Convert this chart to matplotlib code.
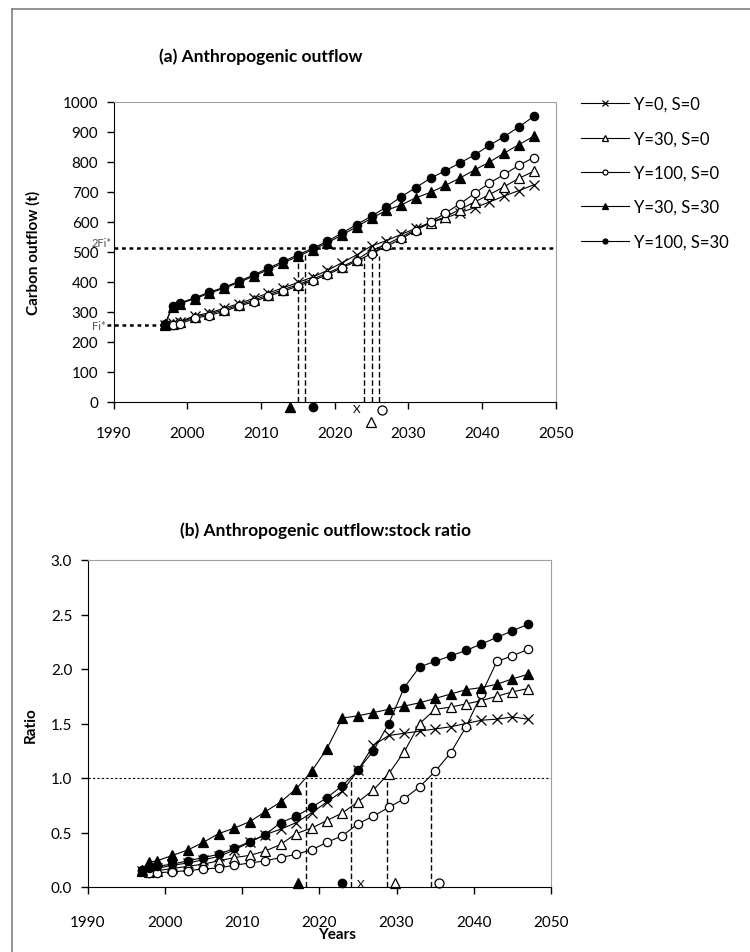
import matplotlib.pyplot as plt
from matplotlib.lines import Line2D
from matplotlib.ticker import FormatStrFormatter

plt.rcParams['font.family'] = ['Lato', 'DejaVu Sans']

years = [1997, 1998, 1999, 2001, 2003, 2005, 2007, 2009, 2011, 2013, 2015, 2017, 2019,
         2021, 2023, 2025, 2027, 2029, 2031, 2033, 2035, 2037, 2039, 2041, 2043, 2045, 2047]
labels = ['Y=0, S=0', 'Y=30, S=0', 'Y=100, S=0', 'Y=30, S=30', 'Y=100, S=30']

# (a) carbon outflow (t)
out_y0s0 = [257, 262, 268, 287, 297, 312, 328, 345, 363, 380, 398, 416, 438, 464, 490, 520, 537, 558, 578, 598, 612, 631, 647, 666, 686, 704, 723]
out_y30s0 = [257, 260, 265, 283, 293, 307, 323, 339, 357, 374, 391, 409, 429, 451, 474, 505, 525, 549, 575, 597, 617, 641, 666, 691, 717, 745, 768]
out_y100s0 = [257, 257, 260, 279, 288, 302, 319, 334, 352, 369, 386, 404, 424, 447, 469, 494, 518, 543, 571, 598, 629, 660, 695, 729, 758, 788, 814]
out_y30s30 = [260, 318, 327, 344, 362, 379, 398, 419, 441, 463, 485, 507, 530, 556, 584, 612, 638, 656, 680, 698, 721, 746, 773, 799, 829, 857, 885]
out_y100s30 = [260, 321, 330, 347, 366, 382, 402, 423, 446, 468, 490, 512, 535, 563, 591, 619, 649, 683, 714, 745, 770, 796, 823, 855, 884, 916, 951]

# (b) outflow:stock ratio
ratio_y0s0 = [0.15, 0.15, 0.17, 0.20, 0.22, 0.25, 0.28, 0.34, 0.41, 0.48, 0.53, 0.59, 0.68, 0.78, 0.88, 1.07, 1.30, 1.39, 1.41, 1.43, 1.45, 1.47, 1.50, 1.53, 1.54, 1.56, 1.54]
ratio_y30s0 = [0.15, 0.14, 0.15, 0.17, 0.19, 0.21, 0.24, 0.27, 0.29, 0.33, 0.39, 0.49, 0.54, 0.61, 0.68, 0.78, 0.89, 1.04, 1.24, 1.50, 1.63, 1.65, 1.68, 1.71, 1.75, 1.79, 1.82]
ratio_y100s0 = [0.15, 0.13, 0.13, 0.14, 0.15, 0.165, 0.175, 0.20, 0.22, 0.24, 0.27, 0.30, 0.34, 0.41, 0.47, 0.58, 0.65, 0.73, 0.81, 0.92, 1.06, 1.23, 1.47, 1.77, 2.07, 2.12, 2.18]
ratio_y30s30 = [0.16, 0.23, 0.24, 0.29, 0.34, 0.41, 0.49, 0.54, 0.60, 0.69, 0.78, 0.90, 1.06, 1.27, 1.55, 1.57, 1.60, 1.63, 1.66, 1.69, 1.73, 1.77, 1.81, 1.83, 1.86, 1.91, 1.95]
ratio_y100s30 = [0.16, 0.17, 0.19, 0.21, 0.24, 0.27, 0.30, 0.355, 0.415, 0.48, 0.59, 0.65, 0.73, 0.82, 0.93, 1.07, 1.25, 1.50, 1.83, 2.02, 2.07, 2.12, 2.17, 2.23, 2.29, 2.35, 2.41]

fi_star = 257
two_fi_star = 514
# years where each scenario reaches 2Fi* (order: Y30S30, Y100S30, Y0S0, Y30S0, Y100S0)
cross_a_years = [2015, 2016, 2024, 2025, 2026]
cross_a_tops = [499, 499, 483, 490, 487]
# years where the ratio reaches 1.0
cross_b_years = [2018.3, 2024.1, 2028.8, 2034.5]

markers = ['x', '^', 'o', '^', 'o']
faces = ['black', 'white', 'white', 'black', 'black']
sizes = [6.5, 6.5, 6, 6.5, 6]

W, H = 750, 953
def fx(p): return p / W
def fy(p): return 1 - p / H

fig = plt.figure(figsize=(7.5, 9.53), dpi=100)

# outer frame
fig.add_artist(Line2D([fx(12), fx(12)], [0, fy(10)], color='#808080', lw=1.2))
fig.add_artist(Line2D([fx(12), 1], [fy(10), fy(10)], color='#808080', lw=1.2))


def style_axes(ax):
    for s in ['top', 'right']:
        ax.spines[s].set_color('#a0a0a0')
    for s in ['left', 'bottom']:
        ax.spines[s].set_color('black')
    ax.tick_params(direction='out', length=5, width=1, top=False, right=False,
                   labelsize=11, colors='black')


def draw_series(ax, series):
    for vals, m, fc, ms, lab in zip(series, markers, faces, sizes, labels):
        ax.plot(years, vals, color='black', lw=0.8, marker=m, mfc=fc, mec='black',
                ms=ms, mew=0.9, label=lab, clip_on=False, zorder=3)


# ---------- (a)
ax1 = fig.add_axes([fx(113.6), fy(403), (555.8 - 113.6) / W, (403 - 102.7) / H])
draw_series(ax1, [out_y0s0, out_y30s0, out_y100s0, out_y30s30, out_y100s30])
ax1.set_xlim(1990, 2050)
ax1.set_ylim(0, 1000)
ax1.set_yticks(range(0, 1001, 100))
ax1.set_xticks(range(1990, 2051, 10))
style_axes(ax1)
ax1.tick_params(axis='x', pad=12)
ax1.tick_params(axis='y', pad=6)

ax1.axhline(two_fi_star, color='black', ls=(0, (1.5, 1.5)), lw=1.8, zorder=2)
ax1.plot([1989.1, 1997], [fi_star, fi_star], color='black', ls=(0, (1.5, 1.5)), lw=1.8,
         clip_on=False, zorder=2)
ax1.text(1988.0, 256, 'Fi*', fontsize=8, color='#505050', ha='center', va='center')
ax1.text(1988.4, 532, '2Fi*', fontsize=8, color='#505050', ha='center', va='center')
for x, top in zip(cross_a_years, cross_a_tops):
    ax1.plot([x, x], [0, top], color='black', lw=1, ls=(0, (4, 2)), zorder=2)

ax1.plot(2014.0, -18, marker='^', color='black', ms=6.5, clip_on=False)
ax1.plot(2017.0, -18, marker='o', color='black', ms=6, clip_on=False)
ax1.text(2023.0, -22, 'X', fontsize=8.5, ha='center', va='center')
ax1.plot(2024.9, -67, marker='^', mfc='white', mec='black', ms=6.5, mew=0.9, clip_on=False)
ax1.plot(2026.4, -27, marker='o', mfc='white', mec='black', ms=6.5, mew=0.9, clip_on=False)

fig.text(fx(33), fy(253), 'Carbon outflow (t)', fontsize=11, fontweight='bold',
         rotation=90, ha='center', va='center')
fig.text(fx(159), fy(57), '(a) Anthropogenic outflow', fontsize=12.5, fontweight='bold',
         ha='left', va='center')

leg = ax1.legend(loc='upper left', bbox_to_anchor=(fx(581), fy(97)),
                 bbox_transform=fig.transFigure, frameon=False, fontsize=12,
                 handlelength=2.9, handletextpad=0.25, labelspacing=1.1,
                 borderpad=0, borderaxespad=0, markerscale=0.6)

# ---------- (b)
ax2 = fig.add_axes([fx(87.5), fy(888), (551 - 87.5) / W, (888 - 561) / H])
draw_series(ax2, [ratio_y0s0, ratio_y30s0, ratio_y100s0, ratio_y30s30, ratio_y100s30])
ax2.set_xlim(1990, 2050)
ax2.set_ylim(0, 3)
ax2.set_yticks([0, 0.5, 1.0, 1.5, 2.0, 2.5, 3.0])
ax2.yaxis.set_major_formatter(FormatStrFormatter('%.1f'))
ax2.set_xticks(range(1990, 2051, 10))
style_axes(ax2)
ax2.tick_params(axis='x', pad=15)
ax2.tick_params(axis='y', pad=6)

ax2.axhline(1.0, color='black', ls=(0, (2, 2)), lw=0.8, zorder=2)
for x in cross_b_years:
    ax2.plot([x, x], [0, 1.0], color='black', lw=1, ls=(0, (4, 2)), zorder=2)

ax2.plot(2017.3, 0.04, marker='^', color='black', ms=6.5, clip_on=False)
ax2.plot(2023.0, 0.04, marker='o', color='black', ms=6, clip_on=False)
ax2.text(2025.3, 0.035, 'X', fontsize=8.5, ha='center', va='center')
ax2.plot(2029.8, 0.04, marker='^', mfc='white', mec='black', ms=6.5, mew=0.9, clip_on=False)
ax2.plot(2035.5, 0.04, marker='o', mfc='white', mec='black', ms=6.5, mew=0.9, clip_on=False)

fig.text(fx(31), fy(725), 'Ratio', fontsize=11, fontweight='bold', rotation=90,
         ha='center', va='center')
fig.text(fx(337), fy(935), 'Years', fontsize=11, fontweight='bold', ha='center', va='center')
fig.text(fx(180), fy(531), '(b) Anthropogenic outflow:stock ratio', fontsize=12.5,
         fontweight='bold', ha='left', va='center')

fig.savefig('out.png', dpi=100)
